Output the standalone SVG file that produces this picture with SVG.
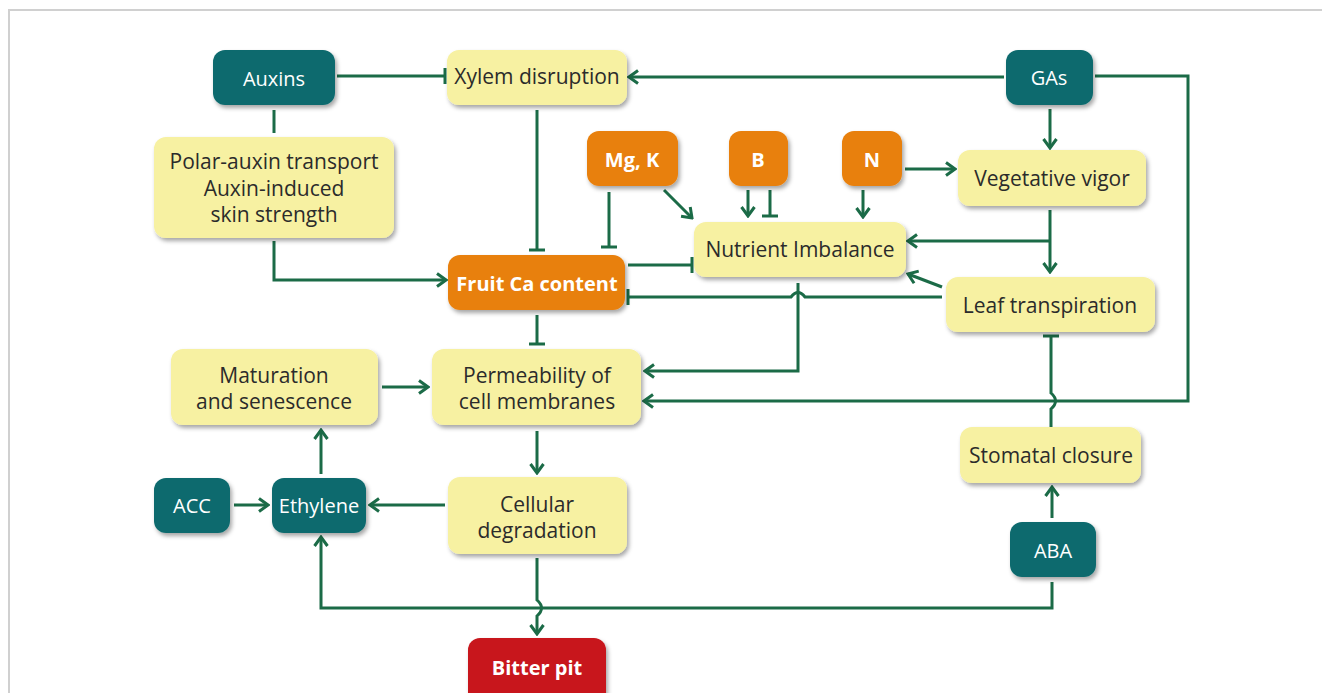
<svg xmlns="http://www.w3.org/2000/svg" width="1322" height="693" viewBox="0 0 1322 693">
<style>
.y{fill:#f7f1a2}
.t{fill:#0f6b6e}
.o{fill:#e8800e}
.r{fill:#c8151b}
.lbl{font-family:"Open Sans","Noto Sans",sans-serif;font-size:21px;fill:#2b2b2b;text-anchor:middle;dominant-baseline:central}
.wl{font-family:"Open Sans","Noto Sans",sans-serif;font-size:20px;fill:#ffffff;text-anchor:middle;dominant-baseline:central}
.wb{font-family:"Open Sans","Noto Sans",sans-serif;font-size:20px;font-weight:bold;fill:#ffffff;text-anchor:middle;dominant-baseline:central}
.c{fill:none;stroke:#1b6b47;stroke-width:3}
</style>
<defs>
<filter id="sh" x="-20%" y="-20%" width="140%" height="150%">
<feDropShadow dx="2" dy="3" stdDeviation="2" flood-color="#000" flood-opacity="0.35"/>
</filter>
<marker id="arr" viewBox="0 0 14 16" refX="12" refY="8" markerWidth="14" markerHeight="16" markerUnits="userSpaceOnUse" orient="auto">
<path d="M3,1.5 L12,8 L3,14.5" fill="none" stroke="#1b6b47" stroke-width="3"/>
</marker>
<marker id="tee" viewBox="0 0 4 16" refX="2" refY="8" markerWidth="4" markerHeight="16" markerUnits="userSpaceOnUse" orient="auto">
<line x1="2" y1="0" x2="2" y2="16" stroke="#1b6b47" stroke-width="3"/>
</marker>
</defs>
<rect width="1322" height="693" fill="#fff"/>
<path d="M9,693 L9,10 L1322,10" fill="none" stroke="#d0d0d0" stroke-width="2"/>

<g id="connectors">
<path class="c" d="M337,76 L445,76" marker-end="url(#tee)"/>
<path class="c" d="M274,110 L274,133"/>
<path class="c" d="M274,241 L274,280 L446,280" marker-end="url(#arr)"/>
<path class="c" d="M537,110 L537,250" marker-end="url(#tee)"/>
<path class="c" d="M609,192 L609,247" marker-end="url(#tee)"/>
<path class="c" d="M664,190 L692,218" marker-end="url(#arr)"/>
<path class="c" d="M748,190 L748,216" marker-end="url(#arr)"/>
<path class="c" d="M770,190 L770,216" marker-end="url(#tee)"/>
<path class="c" d="M863,190 L863,217" marker-end="url(#arr)"/>
<path class="c" d="M905,169 L955,169" marker-end="url(#arr)"/>
<path class="c" d="M1004,77 L629,77" marker-end="url(#arr)"/>
<path class="c" d="M1050,109 L1050,148" marker-end="url(#arr)"/>
<path class="c" d="M1095,76 L1188,76 L1188,401 L644,401" marker-end="url(#arr)"/>
<path class="c" d="M1050,210 L1050,272" marker-end="url(#arr)"/>
<path class="c" d="M1050,241 L908,241" marker-end="url(#arr)"/>
<path class="c" d="M942,287 L908,274" marker-end="url(#arr)"/>
<path class="c" d="M942,297 L805,297 Q798,288 791,297 L628,297" marker-end="url(#tee)"/>
<path class="c" d="M798,283 L798,371 L645,371" marker-end="url(#arr)"/>
<path class="c" d="M628,265 L692,265" marker-end="url(#tee)"/>
<path class="c" d="M537,315 L537,344" marker-end="url(#tee)"/>
<path class="c" d="M382,387 L428,387" marker-end="url(#arr)"/>
<path class="c" d="M537,431 L537,473" marker-end="url(#arr)"/>
<path class="c" d="M445,505 L370,505" marker-end="url(#arr)"/>
<path class="c" d="M234,505 L268,505" marker-end="url(#arr)"/>
<path class="c" d="M321,474 L321,430" marker-end="url(#arr)"/>
<path class="c" d="M1052,582 L1052,608 L321,608 L321,537" marker-end="url(#arr)"/>
<path class="c" d="M537,558 L537,600 Q546,608 537,616 L537,634" marker-end="url(#arr)"/>
<path class="c" d="M1052,518 L1052,487" marker-end="url(#arr)"/>
<path class="c" d="M1051,427 L1051,409 Q1060,401 1051,393 L1051,336" marker-end="url(#tee)"/>
</g>

<g id="auxins"><rect class="t" x="213" y="50" width="122" height="55" rx="12" filter="url(#sh)"/><text class="wl" x="274" y="78">Auxins</text></g>
<g id="xylem"><rect class="y" x="447" y="50" width="180" height="55" rx="12" filter="url(#sh)"/><text class="lbl" x="537" y="76">Xylem disruption</text></g>
<g id="gas"><rect class="t" x="1006" y="50" width="87" height="55" rx="12" filter="url(#sh)"/><text class="wl" x="1049" y="77">GAs</text></g>
<g id="polar"><rect class="y" x="154" y="137" width="240" height="101" rx="12" filter="url(#sh)"/>
<text class="lbl" x="274" y="161">Polar-auxin transport</text><text class="lbl" x="274" y="188">Auxin-induced</text><text class="lbl" x="274" y="214">skin strength</text></g>
<g id="mgk"><rect class="o" x="587" y="131" width="91" height="55" rx="12" filter="url(#sh)"/><text class="wb" x="632" y="159">Mg, K</text></g>
<g id="b"><rect class="o" x="729" y="131" width="59" height="55" rx="12" filter="url(#sh)"/><text class="wb" x="758" y="159">B</text></g>
<g id="n"><rect class="o" x="842" y="131" width="60" height="55" rx="12" filter="url(#sh)"/><text class="wb" x="872" y="159">N</text></g>
<g id="vegetative"><rect class="y" x="958" y="150" width="188" height="56" rx="12" filter="url(#sh)"/><text class="lbl" x="1052" y="178">Vegetative vigor</text></g>
<g id="nutrient"><rect class="y" x="694" y="222" width="212" height="55" rx="12" filter="url(#sh)"/><text class="lbl" x="800" y="249">Nutrient Imbalance</text></g>
<g id="fruitca"><rect class="o" x="448" y="255" width="177" height="55" rx="12" filter="url(#sh)"/><text class="wb" x="537" y="283">Fruit Ca content</text></g>
<g id="leaf"><rect class="y" x="946" y="277" width="209" height="55" rx="12" filter="url(#sh)"/><text class="lbl" x="1050" y="305">Leaf transpiration</text></g>
<g id="maturation"><rect class="y" x="171" y="349" width="207" height="76" rx="12" filter="url(#sh)"/>
<text class="lbl" x="274" y="375">Maturation</text><text class="lbl" x="274" y="401">and senescence</text></g>
<g id="permeability"><rect class="y" x="432" y="349" width="209" height="76" rx="12" filter="url(#sh)"/>
<text class="lbl" x="537" y="375">Permeability of</text><text class="lbl" x="537" y="401">cell membranes</text></g>
<g id="stomatal"><rect class="y" x="960" y="427" width="181" height="56" rx="12" filter="url(#sh)"/><text class="lbl" x="1051" y="455">Stomatal closure</text></g>
<g id="acc"><rect class="t" x="154" y="478" width="76" height="55" rx="12" filter="url(#sh)"/><text class="wl" x="192" y="505">ACC</text></g>
<g id="ethylene"><rect class="t" x="272" y="478" width="94" height="55" rx="12" filter="url(#sh)"/><text class="wl" x="319" y="505">Ethylene</text></g>
<g id="cellular"><rect class="y" x="448" y="477" width="179" height="77" rx="12" filter="url(#sh)"/>
<text class="lbl" x="537" y="504">Cellular</text><text class="lbl" x="537" y="530">degradation</text></g>
<g id="aba"><rect class="t" x="1010" y="522" width="86" height="55" rx="12" filter="url(#sh)"/><text class="wl" x="1053" y="550">ABA</text></g>
<g id="bitterpit"><rect class="r" x="468" y="638" width="138" height="70" rx="12" filter="url(#sh)"/><text class="wb" x="537" y="667">Bitter pit</text></g>
</svg>
